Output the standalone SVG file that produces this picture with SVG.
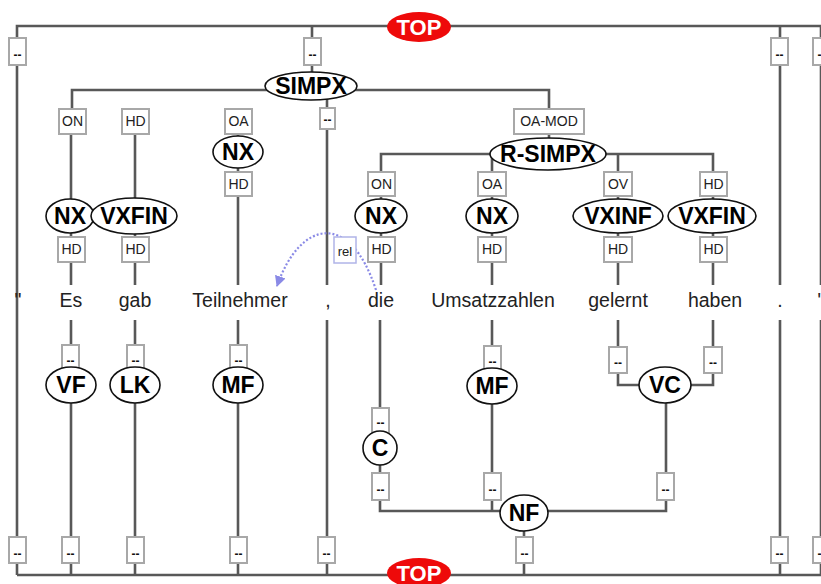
<svg xmlns="http://www.w3.org/2000/svg" width="821" height="584" viewBox="0 0 821 584">
<defs>
<style>
.ln{stroke:#585858;stroke-width:2.6;fill:none}
.bx{fill:#fff;stroke:#a8a8a8;stroke-width:2}
.dd{font-family:"Liberation Sans",Arial,sans-serif;font-size:12px;font-weight:bold;fill:#111;text-anchor:middle}
.lt{font-family:"Liberation Sans",Arial,sans-serif;font-size:14px;fill:#222;text-anchor:middle}
.nd{fill:#fff;stroke:#111;stroke-width:1.6}
.nt{font-family:"Liberation Sans",Arial,sans-serif;font-size:23px;font-weight:bold;fill:#000;text-anchor:middle}
.wt{font-family:"Liberation Sans",Arial,sans-serif;font-size:19.5px;fill:#222;text-anchor:middle}
.top{fill:#ee0a0a}
.tt{font-family:"Liberation Sans",Arial,sans-serif;font-size:22px;font-weight:bold;fill:#fff;text-anchor:middle}
.rel{fill:none;stroke:#8a8ae6;stroke-width:2.2;stroke-dasharray:2 2}
</style>
<marker id="ah" viewBox="0 0 10 10" refX="9" refY="5" markerWidth="5" markerHeight="5" orient="auto" markerUnits="strokeWidth">
<path d="M0,0 L10,5 L0,10 z" fill="#8a8ae6"/>
</marker>
</defs>
<rect width="821" height="584" fill="#fff"/>

<g id="connectors">
<path class="ln" d="M17,575 V26 H821"/>
<path class="ln" d="M17,575 H821"/>
<path class="ln" d="M312,26 V72"/>
<path class="ln" d="M780,26 V285 M780,320 V575"/>
<path class="ln" d="M821,26 V285 M821,320 V575" stroke="#9a9a9a"/>
<path class="ln" d="M72,109 V90 H549 V138"/>
<path class="ln" d="M71,134 V285"/>
<path class="ln" d="M135,134 V285"/>
<path class="ln" d="M238,134 V285"/>
<path class="ln" d="M327,99 V285"/>
<path class="ln" d="M381,171 V154 H713 V285"/>
<path class="ln" d="M381,171 V285"/>
<path class="ln" d="M492,154 V285"/>
<path class="ln" d="M618,154 V285"/>
<path class="ln" d="M71,320 V575"/>
<path class="ln" d="M135,320 V575"/>
<path class="ln" d="M238,320 V575"/>
<path class="ln" d="M327,320 V575"/>
<path class="ln" d="M380,320 V511 H666 V403"/>
<path class="ln" d="M492,320 V511"/>
<path class="ln" d="M524,531 V575"/>
<path class="ln" d="M618,320 V385 H640"/>
<path class="ln" d="M713,320 V385 H690"/>
<path class="rel" d="M376,290 C350,210 300,220 277,286" marker-end="url(#ah)"/>
</g>

<g id="top-upper"><ellipse class="top" cx="419" cy="27" rx="32" ry="15"/><text class="tt" x="419" y="35">TOP</text></g>
<g id="top-lower"><ellipse class="top" cx="419" cy="573" rx="32" ry="15"/><text class="tt" x="419" y="581">TOP</text></g>

<g id="edge-labels-top">
<rect class="bx" x="9" y="38" width="17" height="27"/><text class="dd" x="17.5" y="59">--</text>
<rect class="bx" x="304" y="38" width="17" height="27"/><text class="dd" x="312.5" y="59">--</text>
<rect class="bx" x="771" y="38" width="17" height="27"/><text class="dd" x="779.5" y="59">--</text>
<rect class="bx" x="813" y="38" width="17" height="27"/><text class="dd" x="821.5" y="59">--</text>
<rect class="bx" x="320" y="108" width="15" height="21"/><text class="dd" x="327.5" y="124">--</text>
</g>

<g id="n-simpx"><ellipse class="nd" cx="311" cy="86" rx="46" ry="14"/><text class="nt" x="311" y="94">SIMPX</text></g>

<g id="edge-labels-1">
<rect class="bx" x="59" y="109" width="27" height="25"/><text class="lt" x="72.5" y="126">ON</text>
<rect class="bx" x="122" y="109" width="27" height="25"/><text class="lt" x="135.5" y="126">HD</text>
<rect class="bx" x="225" y="109" width="27" height="25"/><text class="lt" x="238.5" y="126">OA</text>
<rect class="bx" x="514" y="109" width="70" height="25"/><text class="lt" x="549" y="126">OA-MOD</text>
</g>

<g id="n-nx-oa"><ellipse class="nd" cx="238" cy="152" rx="25" ry="16"/><text class="nt" x="238" y="160">NX</text></g>
<g id="n-rsimpx"><ellipse class="nd" cx="548" cy="154" rx="58" ry="16"/><text class="nt" x="548" y="162">R-SIMPX</text></g>

<g id="edge-labels-2">
<rect class="bx" x="225" y="172" width="27" height="24"/><text class="lt" x="238.5" y="189">HD</text>
<rect class="bx" x="368" y="172" width="27" height="24"/><text class="lt" x="381.5" y="189">ON</text>
<rect class="bx" x="478" y="172" width="28" height="24"/><text class="lt" x="492" y="189">OA</text>
<rect class="bx" x="604" y="172" width="28" height="24"/><text class="lt" x="618" y="189">OV</text>
<rect class="bx" x="700" y="172" width="27" height="24"/><text class="lt" x="713.5" y="189">HD</text>
</g>

<g id="edge-labels-3">
<rect class="bx" x="58" y="237" width="27" height="25"/><text class="lt" x="71.5" y="254">HD</text>
<rect class="bx" x="122" y="237" width="27" height="25"/><text class="lt" x="135.5" y="254">HD</text>
<rect class="bx" x="368" y="237" width="27" height="25"/><text class="lt" x="381.5" y="254">HD</text>
<rect class="bx" x="478" y="237" width="28" height="25"/><text class="lt" x="492" y="254">HD</text>
<rect class="bx" x="604" y="237" width="28" height="25"/><text class="lt" x="618" y="254">HD</text>
<rect class="bx" x="700" y="237" width="27" height="25"/><text class="lt" x="713.5" y="254">HD</text>
</g>

<g id="n-nx1"><ellipse class="nd" cx="70" cy="216" rx="24" ry="17"/><text class="nt" x="70" y="224">NX</text></g>
<g id="n-vxfin1"><ellipse class="nd" cx="134" cy="216" rx="43" ry="18"/><text class="nt" x="134" y="224">VXFIN</text></g>
<g id="n-nx2"><ellipse class="nd" cx="381" cy="216" rx="26" ry="17"/><text class="nt" x="381" y="224">NX</text></g>
<g id="n-nx3"><ellipse class="nd" cx="492" cy="216" rx="26" ry="17"/><text class="nt" x="492" y="224">NX</text></g>
<g id="n-vxinf"><ellipse class="nd" cx="618" cy="216" rx="45" ry="17"/><text class="nt" x="618" y="224">VXINF</text></g>
<g id="n-vxfin2"><ellipse class="nd" cx="712" cy="216" rx="44" ry="17"/><text class="nt" x="712" y="224">VXFIN</text></g>

<g id="rel-label"><rect x="334" y="237" width="22" height="26" fill="#fff" stroke="#b0b4e8" stroke-width="1.5"/><text class="lt" x="345" y="256" style="font-size:13px">rel</text></g>

<g id="words">
<text class="wt" x="18" y="307">"</text>
<text class="wt" x="71" y="307">Es</text>
<text class="wt" x="135" y="307">gab</text>
<text class="wt" x="240" y="307">Teilnehmer</text>
<text class="wt" x="328" y="307">,</text>
<text class="wt" x="381" y="307">die</text>
<text class="wt" x="493" y="307">Umsatzzahlen</text>
<text class="wt" x="618" y="307">gelernt</text>
<text class="wt" x="715" y="307">haben</text>
<text class="wt" x="780" y="307">.</text>
<text class="wt" x="821" y="307">"</text>
</g>

<g id="edge-labels-lower">
<rect class="bx" x="62" y="345" width="17" height="27"/><text class="dd" x="70.5" y="365">--</text>
<rect class="bx" x="127" y="345" width="17" height="27"/><text class="dd" x="135.5" y="365">--</text>
<rect class="bx" x="230" y="345" width="17" height="27"/><text class="dd" x="238.5" y="365">--</text>
<rect class="bx" x="484" y="346" width="17" height="27"/><text class="dd" x="492.5" y="366">--</text>
<rect class="bx" x="609" y="347" width="18" height="26"/><text class="dd" x="618" y="367">--</text>
<rect class="bx" x="704" y="347" width="18" height="26"/><text class="dd" x="713" y="367">--</text>
<rect class="bx" x="372" y="408" width="17" height="27"/><text class="dd" x="380.5" y="427">--</text>
<rect class="bx" x="372" y="473" width="17" height="27"/><text class="dd" x="380.5" y="494">--</text>
<rect class="bx" x="484" y="473" width="17" height="27"/><text class="dd" x="492.5" y="494">--</text>
<rect class="bx" x="657" y="473" width="17" height="27"/><text class="dd" x="665.5" y="494">--</text>
</g>

<g id="n-vf"><ellipse class="nd" cx="71" cy="385" rx="25" ry="18"/><text class="nt" x="71" y="393">VF</text></g>
<g id="n-lk"><ellipse class="nd" cx="135" cy="385" rx="25" ry="18"/><text class="nt" x="135" y="393">LK</text></g>
<g id="n-mf1"><ellipse class="nd" cx="238" cy="385" rx="25" ry="18"/><text class="nt" x="238" y="393">MF</text></g>
<g id="n-mf2"><ellipse class="nd" cx="492" cy="386" rx="25" ry="18"/><text class="nt" x="492" y="394">MF</text></g>
<g id="n-vc"><ellipse class="nd" cx="665" cy="385" rx="26" ry="18"/><text class="nt" x="665" y="393">VC</text></g>
<g id="n-c"><ellipse class="nd" cx="380" cy="448" rx="17" ry="17"/><text class="nt" x="380" y="456">C</text></g>
<g id="n-nf"><ellipse class="nd" cx="524" cy="513" rx="24" ry="18"/><text class="nt" x="524" y="521">NF</text></g>

<g id="edge-labels-bottom">
<rect class="bx" x="9" y="537" width="17" height="26"/><text class="dd" x="17.5" y="558">--</text>
<rect class="bx" x="62" y="537" width="17" height="26"/><text class="dd" x="70.5" y="558">--</text>
<rect class="bx" x="127" y="537" width="17" height="26"/><text class="dd" x="135.5" y="558">--</text>
<rect class="bx" x="230" y="537" width="17" height="26"/><text class="dd" x="238.5" y="558">--</text>
<rect class="bx" x="318" y="537" width="17" height="26"/><text class="dd" x="326.5" y="558">--</text>
<rect class="bx" x="516" y="537" width="17" height="26"/><text class="dd" x="524.5" y="558">--</text>
<rect class="bx" x="771" y="537" width="17" height="26"/><text class="dd" x="779.5" y="558">--</text>
<rect class="bx" x="813" y="537" width="17" height="26"/><text class="dd" x="821.5" y="558">--</text>
</g>
</svg>
